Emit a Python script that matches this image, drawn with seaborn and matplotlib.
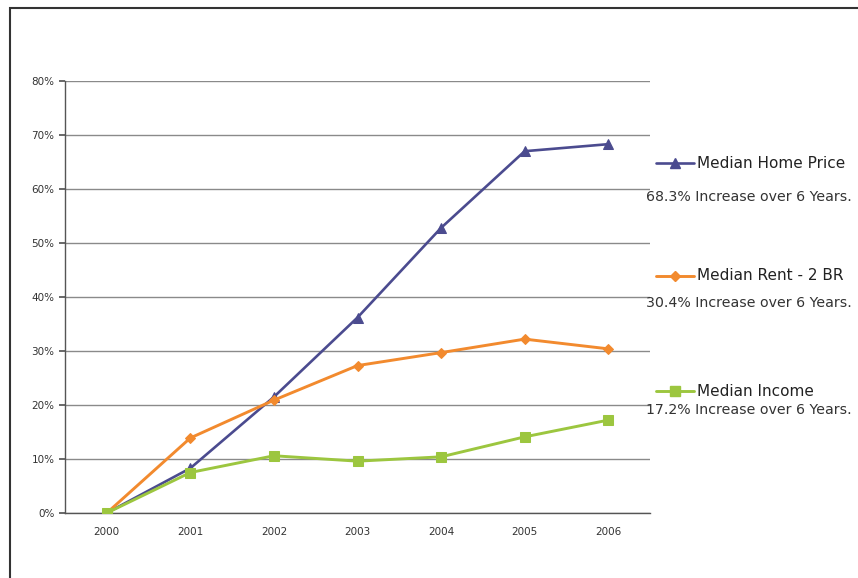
import matplotlib
matplotlib.use("Agg")
import matplotlib.pyplot as plt
from matplotlib.lines import Line2D
from matplotlib.patches import Rectangle
from matplotlib.ticker import PercentFormatter, FixedLocator
import seaborn as sns
import pandas as pd

# Cumulative change since 2000
years = ["2000", "2001", "2002", "2003", "2004", "2005", "2006"]
home_price = [0.0, 8.3, 21.5, 36.2, 52.8, 67.0, 68.3]
rent_2br = [0.0, 13.9, 20.9, 27.3, 29.7, 32.2, 30.4]
income = [0.0, 7.5, 10.6, 9.6, 10.4, 14.1, 17.2]

series_names = ["Median Home Price", "Median Rent - 2 BR", "Median Income"]
series_notes = ["68.3% Increase over 6 Years.",
                "30.4% Increase over 6 Years.",
                "17.2% Increase over 6 Years."]
y_ticks = [0, 10, 20, 30, 40, 50, 60, 70, 80]

colors = {"Median Home Price": "#4b4b8f",
          "Median Rent - 2 BR": "#f28a2e",
          "Median Income": "#9cc63f"}
markers = {"Median Home Price": "^",
           "Median Rent - 2 BR": "D",
           "Median Income": "s"}
msizes = {"Median Home Price": 6.5, "Median Rent - 2 BR": 5, "Median Income": 7}
widths = {"Median Home Price": 1.9, "Median Rent - 2 BR": 2.1, "Median Income": 2.1}

df = pd.DataFrame({
    "Year": years * 3,
    "Change": home_price + rent_2br + income,
    "Series": sum([[n] * len(years) for n in series_names], []),
})

sns.set_theme(style="white")
plt.rcParams["font.family"] = ["DejaVu Sans"]

fig = plt.figure(figsize=(8.58, 5.78), dpi=100)
ax = fig.add_axes([65 / 858, 1 - 513 / 578, 585 / 858, 432 / 578])

for name in series_names:
    sub = df[df["Series"] == name]
    sns.lineplot(data=sub, x="Year", y="Change", ax=ax, color=colors[name],
                 marker=markers[name], markersize=msizes[name],
                 markeredgecolor=colors[name], linewidth=widths[name],
                 legend=False, zorder=3)

ax.set_xlim(-0.5, 6.5)
ax.set_ylim(0, 80)
ax.yaxis.set_major_locator(FixedLocator(y_ticks))
ax.yaxis.set_major_formatter(PercentFormatter(decimals=0))
ax.set_xticks(range(len(years)))
ax.set_xticklabels(years)
ax.set_xlabel("")
ax.set_ylabel("")

ax.grid(axis="y", color="#8a8a8a", linewidth=1.0)
ax.grid(axis="x", visible=False)
for side in ["top", "right"]:
    ax.spines[side].set_visible(False)
for side in ["left", "bottom"]:
    ax.spines[side].set_color("#555555")
    ax.spines[side].set_linewidth(1.0)

ax.tick_params(axis="x", which="major", length=0, labelsize=7.5,
               labelcolor="#333333", pad=10)
ax.set_xticks([i + 0.5 for i in range(-1, len(years))], minor=True)
ax.tick_params(axis="x", which="minor", length=4, color="#555555",
               direction="out")
ax.tick_params(axis="y", length=4, color="#555555", labelsize=7.5,
               labelcolor="#333333", left=True, direction="out")

# Side key with notes
key_rows = [(163, 197), (276, 303), (391, 410)]
for name, note, (ly, ny) in zip(series_names, series_notes, key_rows):
    yf = 1 - ly / 578
    fig.add_artist(Line2D([656 / 858, 694 / 858], [yf, yf],
                          color=colors[name], linewidth=widths[name]))
    fig.add_artist(Line2D([675 / 858], [yf], color=colors[name],
                          marker=markers[name], markersize=msizes[name],
                          markeredgecolor=colors[name], linestyle="none"))
    fig.text(697 / 858, yf, name, fontsize=11, color="#222222",
             va="center", ha="left")
    fig.text(646 / 858, 1 - ny / 578, note, fontsize=10.2, color="#333333",
             va="center", ha="left")

# Outer frame
fig.add_artist(Rectangle((10 / 858, -0.05), 1.0, 1 - 8 / 578 + 0.05,
                         transform=fig.transFigure, fill=False,
                         edgecolor="#333333", linewidth=1.5))

fig.savefig("out.png", dpi=100, facecolor="white")
